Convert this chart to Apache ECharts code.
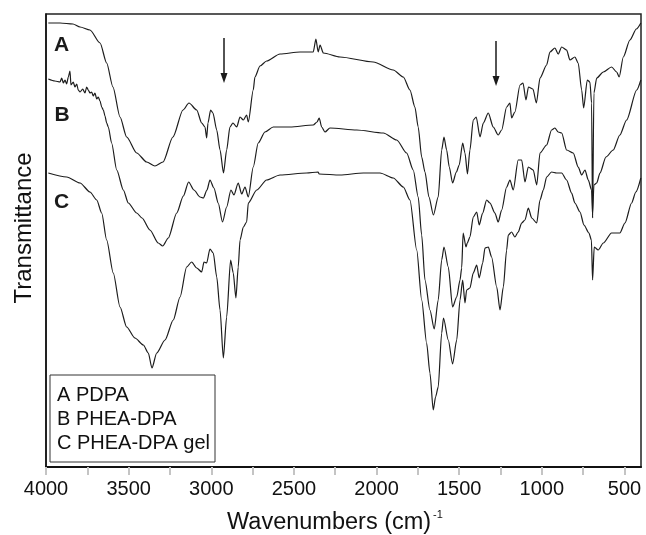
<!DOCTYPE html>
<html>
<head>
<meta charset="utf-8">
<script src="https://cdn.jsdelivr.net/npm/echarts@6/dist/echarts.min.js"></script>
<style>html,body{margin:0;padding:0;background:#fff;}#c{width:646px;height:535px;}</style>
</head>
<body>
<div id="c"></div>
<script>
// Wavenumbers (cm-1) and transmittance (arbitrary units, offset curves)
const wnA = [3986,3915,3837,3794,3734,3673,3633,3595,3552,3512,3451,3391,3341,3292,3232,3171,3135,3088,3058,3038,3028,3020,3004,2990,2967,2947,2926,2907,2887,2869,2846,2826,2806,2786,2776,2746,2736,2705,2665,2584,2463,2383,2367,2353,2342,2322,2221,2020,1899,1838,1798,1768,1748,1727,1707,1683,1656,1627,1606,1592,1576,1560,1540,1517,1500,1479,1465,1450,1435,1415,1397,1374,1354,1324,1294,1264,1243,1213,1193,1183,1163,1132,1114,1096,1081,1054,1033,1011,971,951,921,901,880,850,830,800,780,759,747,725,709,699,693,685,668,628,578,547,532,507,467,428,401];
const tA = [44.4,44.4,44.3,44.0,43.7,42.4,40.4,38.0,35.0,33.0,31.4,30.5,30.1,30.5,33.0,35.7,36.4,35.7,34.4,34.0,32.9,34.4,35.7,35.4,33.7,31.7,29.4,31.7,34.0,34.4,34.0,35.0,34.7,35.2,34.5,37.7,39.0,40.1,40.6,41.3,41.5,41.5,42.8,41.5,42.2,41.4,41.0,40.5,39.7,39.0,37.7,36.0,34.0,31.0,29.5,27.0,25.2,27.0,31.7,33.0,31.7,30.0,28.4,29.5,30.2,32.4,31.4,29.3,31.7,34.7,35.0,33.0,34.4,35.4,34.0,33.2,33.7,36.0,36.4,34.9,35.5,38.2,38.4,36.7,38.0,37.8,36.4,38.9,40.2,41.5,41.9,41.3,42.0,41.7,40.7,41.0,40.4,37.7,35.9,38.7,38.5,36.4,24.9,37.4,38.9,39.5,40.0,39.5,39.0,41.0,42.7,43.8,44.4];

const wnB = [3986,3946,3915,3905,3895,3885,3875,3865,3855,3849,3835,3825,3814,3805,3794,3778,3764,3754,3744,3734,3724,3714,3704,3693,3684,3673,3663,3653,3643,3633,3623,3603,3572,3532,3502,3451,3419,3371,3321,3294,3260,3209,3169,3137,3105,3068,3048,3026,3008,2984,2958,2932,2907,2881,2863,2837,2816,2796,2776,2746,2716,2675,2625,2524,2383,2360,2347,2332,2312,2282,2120,1959,1878,1818,1778,1748,1727,1707,1677,1651,1627,1606,1592,1566,1540,1515,1495,1485,1476,1459,1451,1435,1415,1394,1379,1358,1334,1314,1284,1264,1243,1213,1193,1173,1143,1122,1102,1082,1052,1031,1011,971,941,921,901,880,850,810,780,759,739,719,699,693,685,668,648,612,568,528,487,426,401];
const tB = [38.8,38.6,38.5,38.9,38.4,38.7,38.3,39.0,39.6,38.2,38.5,38.0,38.3,37.7,37.5,37.8,37.4,38.0,37.7,37.4,37.5,37.1,37.4,36.8,37.0,36.6,36.0,35.7,35.1,34.4,34.0,32.4,29.7,27.7,26.4,25.4,24.9,23.7,22.4,22.1,22.9,25.4,27.1,28.5,27.7,27.0,26.9,27.7,28.7,27.9,26.4,24.5,26.0,27.7,27.2,28.4,27.3,28.0,27.0,30.0,32.4,33.5,34.0,34.0,34.2,34.5,34.9,34.0,33.5,33.9,33.7,33.4,32.7,31.4,29.7,27.0,23.2,18.7,15.7,13.8,16.7,20.7,22.0,20.0,16.0,17.0,18.7,19.9,23.4,22.0,22.4,23.0,25.0,25.5,24.2,25.4,26.7,26.4,25.4,24.5,25.7,28.0,28.7,27.7,30.7,30.7,28.5,30.0,29.7,28.2,31.4,32.2,33.7,33.9,33.5,33.4,31.7,31.4,30.0,29.2,29.7,28.7,27.7,25.2,28.2,28.4,29.4,31.0,31.7,33.2,34.7,37.7,38.7];

const wnC = [3986,3875,3794,3734,3693,3663,3633,3593,3552,3512,3462,3411,3381,3359,3330,3280,3230,3189,3149,3119,3088,3058,3044,3028,3008,2988,2967,2947,2927,2907,2883,2867,2851,2837,2826,2806,2786,2776,2725,2665,2584,2423,2354,2347,2221,2080,1979,1899,1838,1798,1757,1727,1697,1677,1657,1643,1627,1606,1595,1566,1540,1515,1495,1479,1465,1455,1435,1415,1394,1379,1358,1344,1324,1304,1273,1253,1233,1213,1203,1183,1163,1143,1122,1102,1082,1061,1031,1011,991,971,941,911,880,850,820,800,769,745,715,700,693,683,659,628,578,528,497,457,431,401];
const tC = [29.4,29.0,28.4,27.5,26.7,25.4,22.7,19.4,16.0,14.0,12.9,12.2,11.4,9.9,11.4,12.7,14.7,17.0,20.0,20.5,19.9,19.5,20.5,20.4,21.8,21.4,19.0,15.7,10.9,15.0,20.7,19.4,16.9,20.0,22.7,24.0,24.5,26.4,27.7,28.7,29.2,29.4,29.5,29.3,29.2,29.4,29.4,28.9,28.0,26.7,21.7,16.7,12.4,9.4,5.7,7.0,8.0,13.4,14.9,12.7,10.3,12.7,16.7,18.7,16.4,17.7,17.9,19.4,20.2,18.9,20.4,21.9,22.0,21.0,18.0,15.7,18.0,21.7,23.2,23.5,23.0,23.5,24.4,24.7,25.9,24.9,24.4,26.7,27.7,29.0,29.5,29.4,29.4,28.7,27.4,26.4,25.5,24.2,23.4,22.7,18.7,22.0,21.7,22.4,23.4,23.4,24.4,26.4,27.5,28.9];

const tickLabels = [500,1000,1500,2000,2500,3000,3500,4000];
const tickMarks = [500,750,1000,1250,1500,1750,2000,2250,2500,2750,3000,3250,3500,3750,4000];
const curveLabels = [{name:'A', wn:3905, t:42.2},{name:'B', wn:3903, t:35.2},{name:'C', wn:3905, t:26.5}];
const arrows = [{wn:2923, from:42.9, to:38.9},{wn:1277, from:42.6, to:38.6}];
const legendLines = ['A PDPA','B PHEA-DPA','C PHEA-DPA gel'];

function zip(w,t){ return w.map((x,i)=>[x,t[i]]); }

const FONT = 'Liberation Sans, Arial, sans-serif';
const lineColor = '#1c1c1c';

function mkSeries(name, data, idx){
  const lab = curveLabels[idx];
  const s = {
    name: name, type:'line', data: data, showSymbol:false, smooth:0.25, smoothMonotone:'x',
    lineStyle:{color:lineColor, width:1.2}, itemStyle:{color:lineColor}, animation:false, z:3,
    markPoint:{
      symbol:'rect', symbolSize:1, itemStyle:{color:'rgba(0,0,0,0)'}, animation:false,
      label:{show:true, position:'inside', formatter: lab.name, fontSize:21, fontWeight:'bold', color:'#1a1a1a', fontFamily:FONT},
      data:[{coord:[lab.wn, lab.t]}]
    }
  };
  if (idx === 0) {
    s.markLine = {
      silent:true, animation:false, symbol:['none','triangle'], symbolSize:[7,10], symbolRotate:180,
      itemStyle:{color:'#1a1a1a'},
      lineStyle:{color:'#1a1a1a', width:1.5, type:'solid'}, label:{show:false},
      data: arrows.map(a=>[{coord:[a.wn,a.from]},{coord:[a.wn,a.to]}])
    };
  }
  return s;
}

const chart = echarts.init(document.getElementById('c'), null, {renderer:'canvas'});
chart.setOption({
  backgroundColor:'#fff',
  animation:false,
  grid:{left:46, right:5, top:14, bottom:68, show:true, borderColor:'#222', borderWidth:1.5, backgroundColor:'rgba(0,0,0,0)'},
  xAxis:{
    type:'value', min:400, max:4000, inverse:true,
    axisLine:{show:true, lineStyle:{color:'#111', width:2}},
    axisTick:{show:true, customValues:tickMarks, length:8, lineStyle:{color:'#c4c4c4', width:2}},
    axisLabel:{show:true, customValues:tickLabels, fontSize:20, color:'#111', fontFamily:FONT, margin:12, formatter:(v)=>String(v)},
    splitLine:{show:false}
  },
  yAxis:{
    type:'value', min:0, max:45.3,
    axisLine:{show:true, lineStyle:{color:'#111', width:1.5}},
    axisTick:{show:false}, axisLabel:{show:false}, splitLine:{show:false}
  },
  series:[ mkSeries('A', zip(wnA,tA), 0), mkSeries('B', zip(wnB,tB), 1), mkSeries('C', zip(wnC,tC), 2) ],
  graphic:[
    {type:'text', x:24, y:228, rotation:Math.PI/2, style:{text:'Transmittance', fontSize:24, fontFamily:FONT, fill:'#111', align:'center', verticalAlign:'middle'}},
    {type:'text', x:227, y:523, style:{text:'Wavenumbers (cm)', fontSize:23.5, fontFamily:FONT, fill:'#111', align:'left', verticalAlign:'middle'}},
    {type:'text', x:433, y:515, style:{text:'-1', fontSize:11, fontFamily:FONT, fill:'#111', align:'left', verticalAlign:'middle'}},
    {type:'group', z:100, children:[
      {type:'rect', shape:{x:50, y:375, width:165, height:87}, style:{fill:'#fff', stroke:'#333', lineWidth:1}, z:100},
      {type:'text', x:57, y:395, z:101, style:{text:legendLines[0], fontSize:20, fontFamily:FONT, fill:'#111', verticalAlign:'middle'}},
      {type:'text', x:57, y:419, z:101, style:{text:legendLines[1], fontSize:20, fontFamily:FONT, fill:'#111', verticalAlign:'middle'}},
      {type:'text', x:57, y:443, z:101, style:{text:legendLines[2], fontSize:20, fontFamily:FONT, fill:'#111', verticalAlign:'middle'}}
    ]}
  ]
});
</script>
</body>
</html>
